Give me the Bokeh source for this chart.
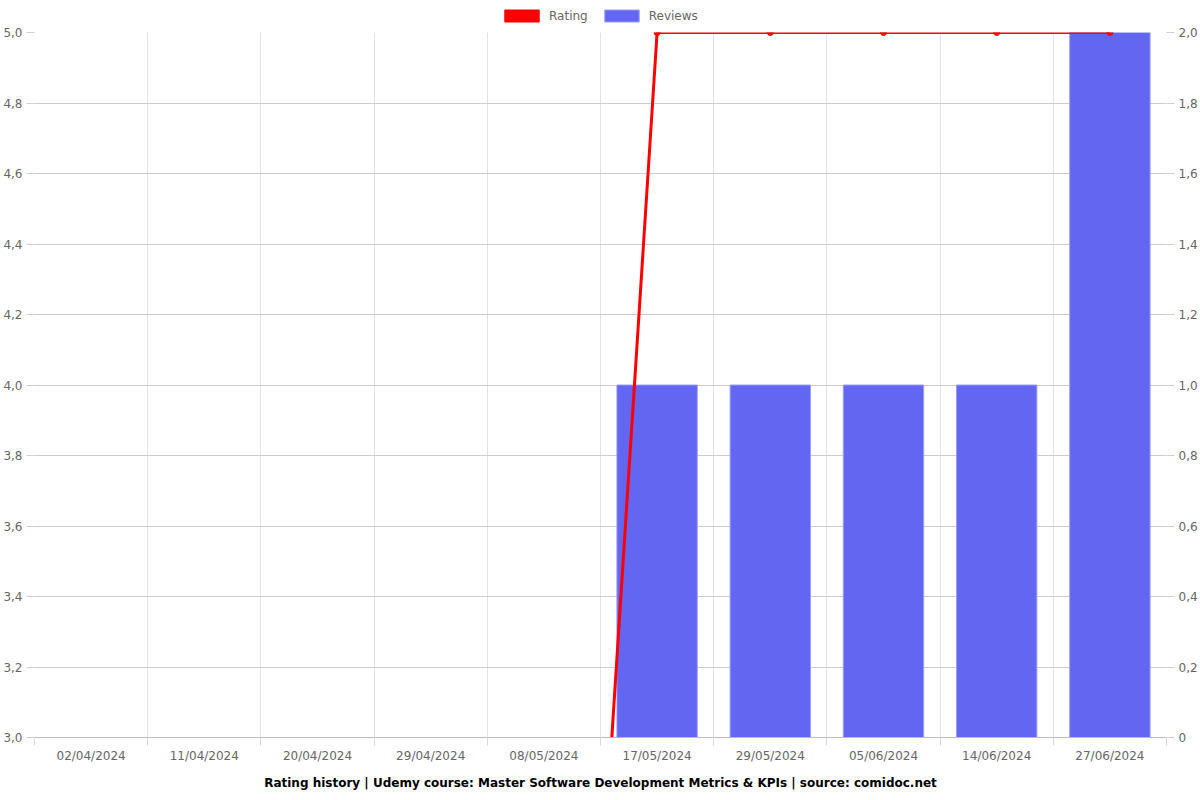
from bokeh.plotting import figure
from bokeh.layouts import column
from bokeh.models import (ColumnDataSource, Range1d, LinearAxis, FixedTicker,
                          CustomJSTickFormatter, Legend, LegendItem, Title)
from bokeh.embed import file_html
from bokeh.resources import INLINE

dates = ["02/04/2024", "11/04/2024", "20/04/2024", "29/04/2024", "08/05/2024",
         "17/05/2024", "29/05/2024", "05/06/2024", "14/06/2024", "27/06/2024"]
rating = [0, 0, 0, 0, 0, 5, 5, 5, 5, 5]
reviews = [0, 0, 0, 0, 0, 1, 1, 1, 1, 2]

n = len(dates)
xs = [i + 0.5 for i in range(n)]
FONT = "DejaVu Sans"
RATING_COLOR = "#ff0000"
REVIEWS_COLOR = "#6366f1"

p = figure(width=1200, height=776, output_backend="svg", toolbar_location=None,
           x_range=Range1d(0, n), y_range=Range1d(3, 5),
           min_border_left=34, min_border_right=34, min_border_top=8, min_border_bottom=63)
p.outline_line_color = None
p.background_fill_color = "white"

p.extra_y_ranges = {"rev": Range1d(0, 2)}

src = ColumnDataSource(dict(x=xs, rating=rating, reviews=reviews))
bars = p.vbar(x="x", top="reviews", bottom=0, width=0.71, source=src, y_range_name="rev",
              fill_color=REVIEWS_COLOR, line_color="#9a9cf6", line_width=1)
line = p.line(x="x", y="rating", source=src, line_color=RATING_COLOR, line_width=3)
p.scatter(x="x", y="rating", source=src, size=6, fill_color=RATING_COLOR, line_color=RATING_COLOR)

# x axis
xaxis = p.xaxis[0]
xaxis.ticker = FixedTicker(ticks=xs, minor_ticks=list(range(n + 1)))
xaxis.major_label_overrides = {x: d for x, d in zip(xs, dates)}
xaxis.major_tick_line_color = None
xaxis.minor_tick_line_color = "#d9d9d9"
xaxis.minor_tick_out = 8
xaxis.minor_tick_in = 0
xaxis.axis_line_color = "#bdbdbd"
xaxis.major_label_text_font = FONT
xaxis.major_label_text_font_size = "12px"
xaxis.major_label_text_color = "#666666"
xaxis.major_label_standoff = 3

p.xgrid.grid_line_color = None
p.xgrid.minor_grid_line_color = "#e3e3e3"
p.xgrid.ticker = FixedTicker(ticks=[], minor_ticks=list(range(n + 1)))

# left y axis
yaxis = p.yaxis[0]
yaxis.ticker = FixedTicker(ticks=[3 + 0.2 * i for i in range(11)])
yaxis.formatter = CustomJSTickFormatter(code="return tick.toFixed(1).replace('.', ',');")
yaxis.axis_line_color = None
yaxis.major_tick_line_color = "#cfcfcf"
yaxis.major_tick_out = 8
yaxis.major_tick_in = 0
yaxis.minor_tick_line_color = None
yaxis.major_label_text_font = FONT
yaxis.major_label_text_font_size = "12px"
yaxis.major_label_text_color = "#666666"
yaxis.major_label_standoff = 4
p.ygrid.ticker = FixedTicker(ticks=[3 + 0.2 * i for i in range(11)])
p.ygrid.grid_line_color = "#cccccc"

# right y axis
raxis = LinearAxis(y_range_name="rev",
                   ticker=FixedTicker(ticks=[0.2 * i for i in range(11)]),
                   formatter=CustomJSTickFormatter(code="return tick == 0 ? '0' : tick.toFixed(1).replace('.', ',');"))
raxis.axis_line_color = None
raxis.major_tick_line_color = "#cfcfcf"
raxis.major_tick_out = 8
raxis.major_tick_in = 0
raxis.minor_tick_line_color = None
raxis.major_label_text_font = FONT
raxis.major_label_text_font_size = "12px"
raxis.major_label_text_color = "#666666"
raxis.major_label_standoff = 4
p.add_layout(raxis, "right")

title = Title(text="Rating history | Udemy course: Master Software Development Metrics & KPIs | source: comidoc.net",
              align="center", text_font=FONT, text_font_size="12px", text_font_style="bold",
              text_color="#000000", standoff=16)
p.add_layout(title, "below")

# legend strip above the chart
lg = figure(width=1200, height=24, output_backend="svg", toolbar_location=None,
            x_range=Range1d(0, 1), y_range=Range1d(0, 1),
            min_border=0, x_axis_type=None, y_axis_type=None)
lg.outline_line_color = None
lg.grid.visible = False
r1 = lg.vbar(x=[0.5], top=[-1], bottom=[-1], width=0.1, fill_color=RATING_COLOR, line_color=RATING_COLOR)
r2 = lg.vbar(x=[0.5], top=[-1], bottom=[-1], width=0.1, fill_color=REVIEWS_COLOR, line_color="#9a9cf6")
legend = Legend(items=[LegendItem(label="Rating", renderers=[r1]),
                       LegendItem(label="Reviews", renderers=[r2])],
                orientation="horizontal", location=(466, 1),
                glyph_width=43, glyph_height=15, label_text_font=FONT,
                label_text_font_size="12px", label_text_color="#666666",
                label_height=15, border_line_color=None, background_fill_alpha=0,
                padding=0, margin=0, spacing=12, label_standoff=6)
lg.add_layout(legend, "center")

layout = column(lg, p, spacing=0)
open("out.html", "w").write(file_html(layout, INLINE))
